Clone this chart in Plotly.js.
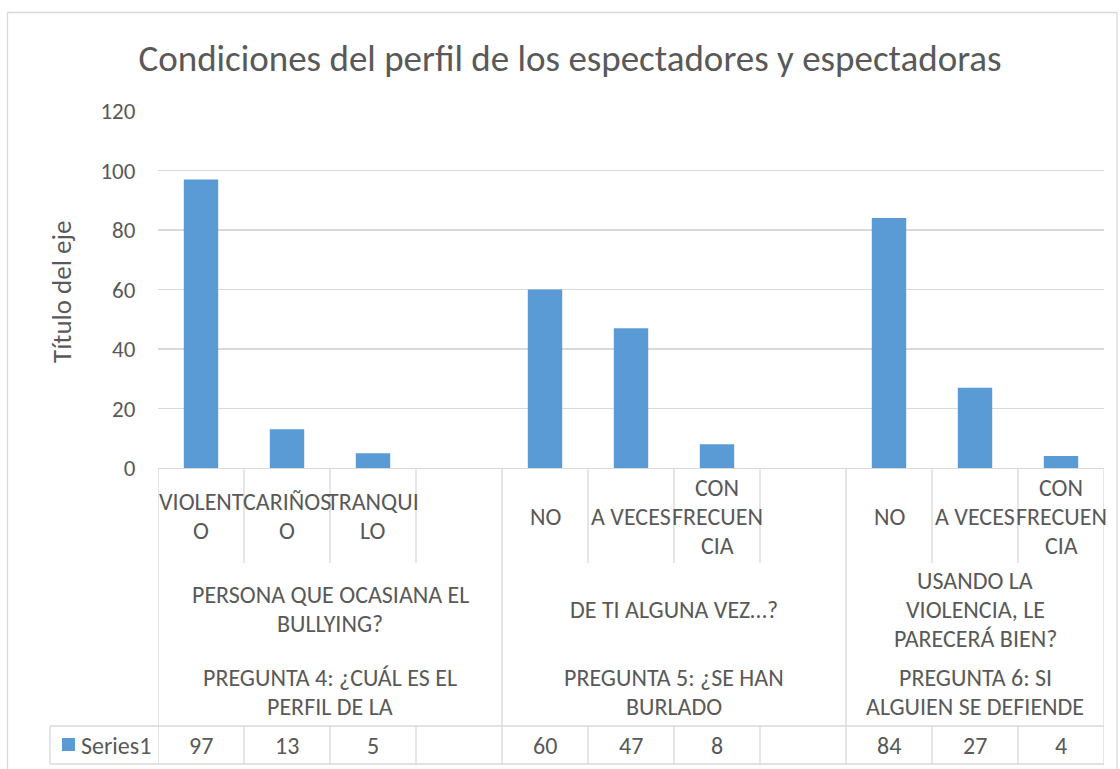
<!DOCTYPE html>
<html>
<head>
<meta charset="utf-8">
<script src="https://cdn.plot.ly/plotly-3.0.1.min.js"></script>
<style>html,body{margin:0;padding:0;background:#fff;}#chart{width:1120px;height:769px;}</style>
</head>
<body>
<div id="chart"></div>
<script>
// ---- data ----
const categories = ["VIOLENT\nO", "CARIÑOS\nO", "TRANQUI\nLO", "", "NO", "A VECES", "CON\nFRECUEN\nCIA", "", "NO", "A VECES", "CON\nFRECUEN\nCIA"];
const values = [97, 13, 5, null, 60, 47, 8, null, 84, 27, 4];
const groupTop = ["PERSONA QUE OCASIANA EL\nBULLYING?", "DE TI ALGUNA VEZ…?", "USANDO LA\nVIOLENCIA, LE\nPARECERÁ BIEN?"];
const groupBottom = ["PREGUNTA 4: ¿CUÁL ES EL\nPERFIL DE LA", "PREGUNTA 5: ¿SE HAN\nBURLADO", "PREGUNTA 6: SI\nALGUIEN SE DEFIENDE"];
const groupSizes = [4, 4, 3];
const seriesName = "Series1";
const chartTitle = "Condiciones del perfil de los espectadores y espectadoras";
const yTitle = "Título del eje";
const yTicks = [0, 20, 40, 60, 80, 100, 120];

// ---- layout helpers ----
const W = 1120, H = 769;
const L = 158, R = 1104, T = 111, B = 468;
const FONT = "Carlito, 'Liberation Sans Narrow', 'DejaVu Sans Condensed', 'Open Sans', sans-serif";
const TXT = "#595959";
const LINE = "#d9d9d9";
const LBL = 24;
const py = p => (B - p) / (B - T);        // pixel y -> paper y
const pxp = p => (p - L) / (R - L);       // pixel x -> paper x
const idx = categories.map((_, i) => i);

const annotations = [];
const shapes = [];
const lineH = 29;

function addLines(text, xval, xref, centerY, size) {
  const lines = text.split("\n");
  const n = lines.length;
  lines.forEach((ln, k) => {
    const yy = centerY + (k - (n - 1) / 2) * lineH;
    annotations.push({text: ln, x: xval, xref: xref, y: py(yy), yref: "paper",
      showarrow: false, xanchor: "center", yanchor: "middle",
      font: {family: FONT, size: size, color: TXT}});
  });
}

// category labels (row 1)
categories.forEach((c, i) => { if (c) addLines(c, i, "x", 516, LBL); });
// group labels (rows 2 & 3)
let start = 0;
const groupBounds = [start];
groupSizes.forEach((g, gi) => {
  const center = start + (g - 1) / 2;
  addLines(groupTop[gi], center, "x", 609, LBL);
  addLines(groupBottom[gi], center, "x", 692, LBL);
  start += g;
  groupBounds.push(start);
});
// data table values
values.forEach((v, i) => {
  if (v !== null) annotations.push({text: String(v), x: i, xref: "x", y: py(745), yref: "paper",
    showarrow: false, xanchor: "center", yanchor: "middle", font: {family: FONT, size: LBL, color: TXT}});
});
annotations.push({text: seriesName, x: pxp(79), xref: "paper", y: py(745), yref: "paper",
  showarrow: false, xanchor: "left", yanchor: "middle", font: {family: FONT, size: LBL, color: TXT}});
// y-axis title
annotations.push({text: yTitle, x: pxp(61), xref: "paper", y: py(292), yref: "paper",
  showarrow: false, textangle: -90, xanchor: "center", yanchor: "middle",
  font: {family: FONT, size: 27, color: TXT}});

// table lines
function vline(x, xref, y0, y1) {
  shapes.push({type: "line", xref: xref, yref: "paper", x0: x, x1: x, y0: py(y0), y1: py(y1),
    line: {color: LINE, width: 1.3}});
}
function hline(x0, x1, y) {
  shapes.push({type: "line", xref: "paper", yref: "paper", x0: pxp(x0), x1: pxp(x1), y0: py(y), y1: py(y),
    line: {color: LINE, width: 1.3}});
}
for (let b = 0; b <= categories.length; b++) {
  const xv = b - 0.5;
  if (groupBounds.includes(b)) vline(xv, "x", B, 764);
  else { vline(xv, "x", B, 563); vline(xv, "x", 726, 764); }
}
vline(pxp(50), "paper", 726, 764);
hline(50, R, 726);
hline(50, R, 764);
// legend key square
shapes.push({type: "rect", xref: "paper", yref: "paper", x0: pxp(62), x1: pxp(75), y0: py(738), y1: py(751),
  fillcolor: "#5b9bd5", line: {width: 0}});
// outer chart border
shapes.push({type: "rect", xref: "paper", yref: "paper", x0: pxp(7.5), x1: pxp(1117), y0: py(12.5), y1: py(790),
  fillcolor: "rgba(0,0,0,0)", line: {color: LINE, width: 1.3}});

const trace = {type: "bar", x: idx, y: values, name: seriesName, width: 0.4,
  marker: {color: "#5b9bd5"}, hoverinfo: "y"};

const layout = {
  width: W, height: H,
  margin: {l: L, r: W - R, t: T, b: H - B, pad: 0},
  paper_bgcolor: "#fff", plot_bgcolor: "#fff",
  showlegend: false,
  title: {text: chartTitle, x: 570 / W, xref: "container", xanchor: "center",
    y: 1 - 58 / H, yref: "container", yanchor: "middle",
    font: {family: FONT, size: 37, color: TXT}},
  xaxis: {range: [-0.5, categories.length - 0.5], showticklabels: false, ticks: "",
    showgrid: false, zeroline: false, showline: true, linecolor: LINE, linewidth: 1.3, fixedrange: true},
  yaxis: {range: [0, 120], tickvals: yTicks, ticks: "outside", ticklen: 17, tickcolor: "rgba(0,0,0,0)",
    showgrid: true, gridcolor: LINE, gridwidth: 1.3, zeroline: false, showline: false,
    tickfont: {family: FONT, size: 23, color: TXT}, fixedrange: true},
  annotations: annotations,
  shapes: shapes
};

Plotly.newPlot("chart", [trace], layout, {displayModeBar: false, staticPlot: true});
</script>
</body>
</html>
